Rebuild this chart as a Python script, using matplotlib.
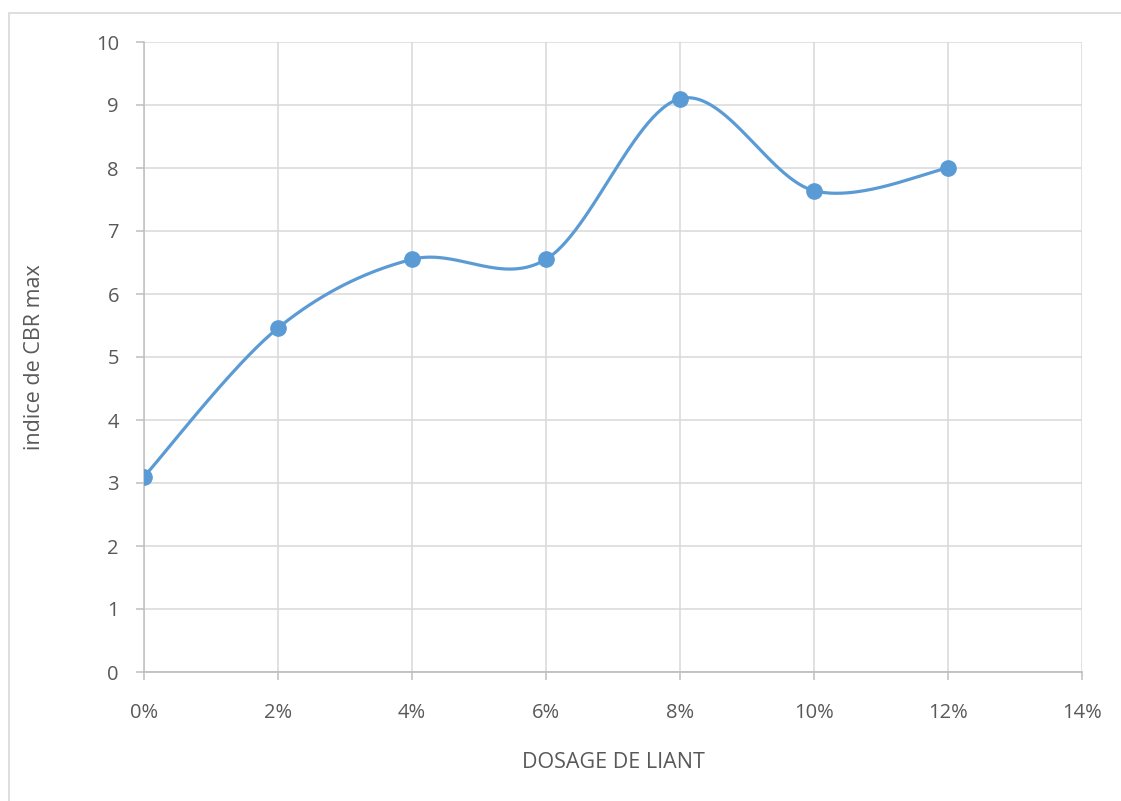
import numpy as np
import matplotlib
matplotlib.use("Agg")
import matplotlib.pyplot as plt
from matplotlib.patches import Rectangle
from matplotlib.ticker import FuncFormatter

# Data
dosage = [0, 2, 4, 6, 8, 10, 12]          # % liant
cbr = [3.1, 5.46, 6.55, 6.55, 9.1, 7.64, 8.0]
x_ticks = [0, 2, 4, 6, 8, 10, 12, 14]
y_ticks = [0, 1, 2, 3, 4, 5, 6, 7, 8, 9, 10]

plt.rcParams['font.family'] = ['Open Sans', 'DejaVu Sans']
TXT = '#595959'
BLUE = '#5b9bd5'
W, H = 1121, 801

fig = plt.figure(figsize=(W/100, H/100), dpi=100)
# outer chart frame
fig.patches.append(Rectangle((9/W, -0.1), 1.2, 1 - 13/H + 0.1,
                             transform=fig.transFigure, fill=False,
                             edgecolor='#d9d9d9', linewidth=1.2))
ax = fig.add_axes([144/W, 1 - 672/H, (1082 - 144)/W, (672 - 42)/H])

# Excel-like smoothed curve (cardinal bezier)
px = np.array(dosage, float)
py = np.array(cbr, float)
n = len(px)
cx, cy = [], []
t = np.linspace(0, 1, 60)
for i in range(n - 1):
    p0 = i - 1 if i > 0 else i
    p3 = i + 2 if i + 2 < n else i + 1
    P1 = np.array([px[i], py[i]]); P2 = np.array([px[i+1], py[i+1]])
    P0 = np.array([px[p0], py[p0]]); P3 = np.array([px[p3], py[p3]])
    C1 = P1 + (P2 - P0) / 6
    C2 = P2 - (P3 - P1) / 6
    b = ((1-t)**3)[:, None]*P1 + (3*(1-t)**2*t)[:, None]*C1 + (3*(1-t)*t**2)[:, None]*C2 + (t**3)[:, None]*P2
    cx.extend(b[:, 0]); cy.extend(b[:, 1])

ax.plot(cx, cy, color=BLUE, linewidth=2.3, solid_capstyle='round', zorder=3)
ax.plot(px, py, 'o', color=BLUE, markersize=11, zorder=4)

ax.set_xlim(0, 14)
ax.set_ylim(0, 10)
ax.set_xticks(x_ticks)
ax.set_yticks(y_ticks)
ax.xaxis.set_major_formatter(FuncFormatter(lambda v, p: f"{int(v)}%"))
ax.grid(True, color='#d9d9d9', linewidth=1.1)
ax.set_axisbelow(True)
for s in ['top', 'right']:
    ax.spines[s].set_visible(False)
ax.spines['left'].set_color('#bfbfbf')
ax.spines['bottom'].set_color('#bfbfbf')
ax.spines['left'].set_linewidth(1.1)
ax.spines['bottom'].set_linewidth(1.3)
ax.tick_params(axis='both', colors='#bfbfbf', labelcolor=TXT, labelsize=14.5,
               length=6, width=1.1)
ax.tick_params(axis='x', pad=16)
ax.tick_params(axis='y', pad=12)

fig.text((144 + 1082) / 2 / W, 1 - 763/H, 'DOSAGE DE LIANT', fontsize=15.5,
         color=TXT, ha='center', va='center')
fig.text(35/W, 1 - 357/H, 'indice de CBR max', fontsize=15.5, color=TXT,
         ha='center', va='center', rotation=90)

fig.savefig('out.png', dpi=100, facecolor='white')
